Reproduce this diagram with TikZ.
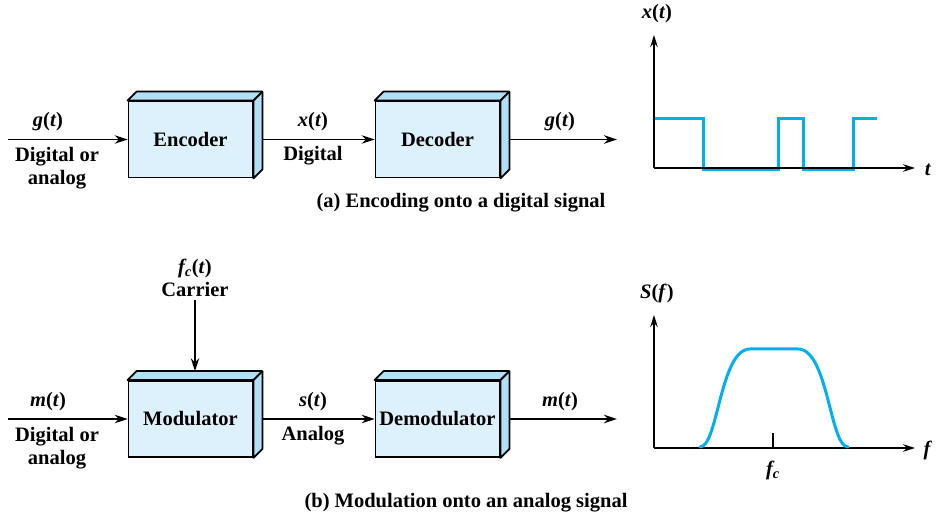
\documentclass[tikz,border=0pt]{standalone}
\usepackage{fontspec}
\setmainfont{Liberation Serif}
\usetikzlibrary{arrows.meta,positioning,calc}
\definecolor{BoxFront}{HTML}{DDF1FC}
\definecolor{BoxSide}{HTML}{B0DFF6}
\definecolor{SigBlue}{HTML}{00AEEF}
\newcommand{\sgn}[2]{\textit{#1}(\textit{#2})}
\newcommand{\boxdepth}[1]{%
  \filldraw[fill=BoxSide,line width=1.8pt,line join=round] (#1.north west) -- ++(9,9) -- ($(#1.north east)+(9,9)$) -- ($(#1.south east)+(9,9)$) -- (#1.south east) -- (#1.north east) -- cycle;
  \draw[line width=1.8pt] (#1.north east) -- ++(9,9);}

\begin{document}
\begin{tikzpicture}[x=1pt,y=1pt,
  every node/.style={font=\fontsize{20.5}{23}\selectfont\bfseries},
  block/.style={draw,line width=1.8pt,fill=BoxFront,minimum width=124pt,minimum height=76pt,inner sep=0pt},
  sig/.style={line width=1.8pt,-{Stealth[length=13pt,width=8.5pt]}},
  lbl/.style={align=center},
  axis/.style={line width=1.3pt,-{Stealth[length=12pt,width=7.5pt]}},
  wave/.style={SigBlue,line width=3pt}]
\useasboundingbox (0,0) rectangle (938,517);

% (a) encoding
\node[block] (enc) at (190.5,377.5) {Encoder};
\node[block] (dec) at (437.5,377.5) {Decoder};
\boxdepth{enc}
\boxdepth{dec}
\coordinate (gin) at (8,377.5);
\coordinate (gout) at (617,377.5);
\draw[sig] (gin) -- (enc.west);
\draw[sig] ([xshift=9pt]enc.east) -- (dec.west);
\draw[sig] ([xshift=9pt]dec.east) -- (gout);
\node (gtin) at (48,395) {\sgn{g}{t}};
\node[lbl] (gtype) at (57,348.5) {Digital or\\analog};
\node (xt) at (313,395) {\sgn{x}{t}};
\node (xtype) at (313,361) {Digital};
\node (gtout) at (560,395) {\sgn{g}{t}};
\node (capa) at (461,314) {(a) Encoding onto a digital signal};

% x(t) plot
\coordinate (oa) at (654,349);
\coordinate (ya) at (654,482);
\coordinate (xa) at (915,349);
\draw[wave] (654,398) -| (703,347.5) -| (778,398) -| (803,347.5) -| (853,398) -- (877,398);
\draw[axis] (oa) -- (ya);
\draw[axis] (oa) -- (xa);
\node (xtlab) at (657,503) {\sgn{x}{t}};
\node (tlab) at (928,347) {\textit{t}};

% (b) modulation
\node[block] (mod) at (190.5,98) {Modulator};
\node[block] (demod) at (437.5,98) {Demodulator};
\boxdepth{mod}
\boxdepth{demod}
\node[lbl] (fc) at (195,239.5) {\textit{f\textsubscript{c}}(\textit{t})\\Carrier};
\draw[sig] (fc.south) -- ($(mod.north)+(4.5,9)$);
\coordinate (min) at (8,98);
\coordinate (mout) at (617,98);
\draw[sig] (min) -- (mod.west);
\draw[sig] ([xshift=9pt]mod.east) -- (demod.west);
\draw[sig] ([xshift=9pt]demod.east) -- (mout);
\node (mtin) at (48,115) {\sgn{m}{t}};
\node[lbl] (mtype) at (57,68.5) {Digital or\\analog};
\node (st) at (313,115) {\sgn{s}{t}};
\node (stype) at (313,81) {Analog};
\node (mtout) at (560,115) {\sgn{m}{t}};
\node (capb) at (466,14) {(b) Modulation onto an analog signal};

% S(f) plot
\coordinate (ob) at (654,69);
\coordinate (yb) at (654,202);
\coordinate (xb) at (915,69);
\draw[axis] (ob) -- (yb);
\draw[axis] (ob) -- (xb);
\draw[wave,line cap=round] (700,70) .. controls (718,70) and (720,168) .. (750,168) -- (798,168) .. controls (828,168) and (830,70) .. (848,70);
\coordinate (tick) at (773,84);
\draw[line width=1.3pt] (tick) -- (773,69);
\node (fclab) at (773,47) {\textit{f\textsubscript{c}}};
\node (sflab) at (657,224) {\sgn{S}{f}};
\node (flab) at (928,67) {\textit{f}};
\end{tikzpicture}
\end{document}
